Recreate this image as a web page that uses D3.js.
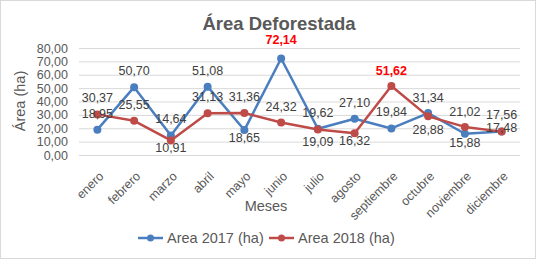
<!DOCTYPE html>
<html>
<head>
<meta charset="utf-8">
<script src="https://cdn.jsdelivr.net/npm/d3@7"></script>
<style>
  body { margin: 0; background: #fff; }
  text { font-family: "Liberation Sans", Arial, sans-serif; }
</style>
</head>
<body>
<svg width="536" height="259"></svg>
<script>
var months = ["enero", "febrero", "marzo", "abril", "mayo", "junio", "julio", "agosto", "septiembre", "octubre", "noviembre", "diciembre"];
var area2017 = [18.95, 50.70, 14.64, 51.08, 18.65, 72.14, 19.62, 27.10, 19.84, 31.34, 15.88, 17.56];
var area2018 = [30.37, 25.55, 10.91, 31.13, 31.36, 24.32, 19.09, 16.32, 51.62, 28.88, 21.02, 17.48];
var yTicks = [0, 10, 20, 30, 40, 50, 60, 70, 80];
var seriesNames = ["Area 2017 (ha)", "Area 2018 (ha)"];

var svg = d3.select('svg');
var fmt = v => d3.format('.2f')(v).replace('.', ',');

svg.append('rect')
   .attr('x', 0.5).attr('y', 0.5)
   .attr('width', 535).attr('height', 258)
   .attr('fill', '#fff').attr('stroke', '#d9d9d9');

var x = d3.scaleBand()
          .domain(months)
          .range([79, 520]);
var y = d3.scaleLinear()
          .domain([0, 80])
          .range([155, 48]);

// gridlines
svg.append('g')
   .selectAll('line')
   .data(yTicks)
   .enter()
   .append('line')
     .attr('x1', 79).attr('x2', 520)
     .attr('y1', d => y(d) + 0.5).attr('y2', d => y(d) + 0.5)
     .attr('stroke', '#d9d9d9');

// y axis labels
var yAxis = d3.axisLeft(y).tickValues(yTicks).tickFormat(fmt).tickSize(0).tickPadding(11);
svg.append('g')
   .attr('transform', 'translate(79,0)')
   .call(yAxis)
   .call(g => g.select('.domain').remove())
   .selectAll('text')
     .attr('font-size', 12.5)
     .attr('fill', '#595959')
     .attr('font-family', '"Liberation Sans", Arial, sans-serif');

// x axis labels
var xAxis = d3.axisBottom(x).tickSize(0).tickPadding(0);
svg.append('g')
   .attr('transform', 'translate(0,155)')
   .call(xAxis)
   .call(g => g.select('.domain').remove())
   .selectAll('text')
     .attr('font-size', 12.5)
     .attr('fill', '#595959')
     .attr('font-family', '"Liberation Sans", Arial, sans-serif')
     .attr('text-anchor', 'end')
     .attr('dy', 0)
     .attr('transform', 'translate(7,22) rotate(-45)');

var cx = d => x(d) + x.bandwidth() / 2;
var colors = ['#4a7ebf', '#be4b48'];
var series = [area2017, area2018];

series.forEach((vals, s) => {
  var pts = months.map((m, i) => ({ m: m, v: vals[i] }));
  var line = d3.line().x(d => cx(d.m)).y(d => y(d.v));
  svg.append('path')
     .datum(pts)
     .attr('d', line)
     .attr('fill', 'none')
     .attr('stroke', colors[s])
     .attr('stroke-width', 2.5)
     .attr('stroke-linejoin', 'round');
  svg.append('g')
     .selectAll('circle')
     .data(pts)
     .enter()
     .append('circle')
       .attr('cx', d => cx(d.m))
       .attr('cy', d => y(d.v))
       .attr('r', 4)
       .attr('fill', colors[s]);
});

// data labels: baseline offset from the marker, per point
var labelDy = [
  [-12, -12, -12, -12, 12, -15, -12, -12, -12, -11, 13, -13],
  [-12, -12, 12, -12, -12, -11, 17, 12, -11, 18, -11, 0]
];
series.forEach((vals, s) => {
  var maxV = d3.max(vals);
  svg.append('g')
     .selectAll('text')
     .data(vals)
     .enter()
     .append('text')
       .attr('x', (d, i) => cx(months[i]))
       .attr('y', (d, i) => y(d) + labelDy[s][i])
       .attr('text-anchor', 'middle')
       .attr('font-size', 12.5)
       .attr('font-weight', d => d === maxV ? 'bold' : 'normal')
       .attr('fill', d => d === maxV ? '#ff0000' : '#404040')
       .text(fmt);
});

// title
svg.append('text')
   .attr('x', 279).attr('y', 30)
   .attr('text-anchor', 'middle')
   .attr('font-size', 18.5)
   .attr('font-weight', 'bold')
   .attr('fill', '#595959')
   .text('Área Deforestada');

// axis titles
svg.append('text')
   .attr('transform', 'translate(25,101) rotate(-90)')
   .attr('text-anchor', 'middle')
   .attr('font-size', 14.5)
   .attr('fill', '#595959')
   .text('Área (ha)');

svg.append('text')
   .attr('x', 266).attr('y', 211)
   .attr('text-anchor', 'middle')
   .attr('font-size', 14.5)
   .attr('fill', '#595959')
   .text('Meses');

// legend
var legend = svg.append('g')
   .selectAll('g')
   .data(seriesNames)
   .enter()
   .append('g')
     .attr('transform', (d, i) => 'translate(' + (138 + i * 131) + ',238)');
legend.append('line')
   .attr('x1', 0).attr('x2', 25)
   .attr('stroke', (d, i) => colors[i])
   .attr('stroke-width', 2.5);
legend.append('circle')
   .attr('cx', 12.5).attr('r', 3.5)
   .attr('fill', (d, i) => colors[i]);
legend.append('text')
   .attr('x', 29).attr('y', 5)
   .attr('font-size', 14.5)
   .attr('fill', '#595959')
   .text(d => d);
</script>
</body>
</html>
